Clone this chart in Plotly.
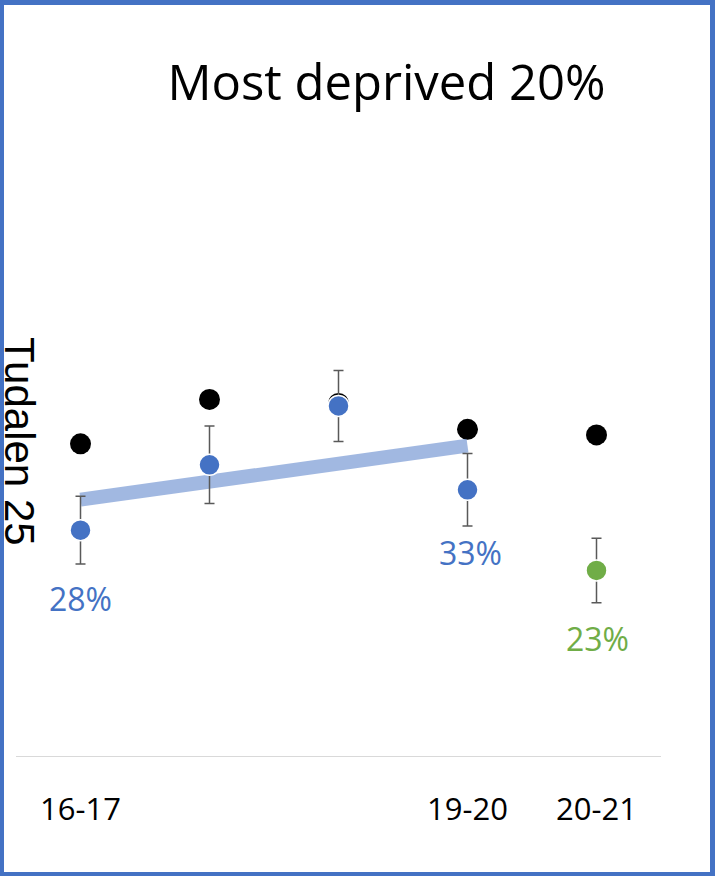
import numpy as np
import plotly.graph_objects as go

# Academic years on the category axis
years = ["16-17", "17-18", "18-19", "19-20", "20-21"]
tick_labels = ["16-17", "", "", "19-20", "20-21"]

# Comparison group (black dots), %
overall = [38.7, 44.2, 43.7, 40.5, 39.8]

# Most deprived 20%: pre-pandemic years (blue) and 20-21 (green), %
deprived_years = ["16-17", "17-18", "18-19", "19-20"]
deprived = [28, 36.1, 43.4, 33]
deprived_err = [4.2, 4.8, 4.4, 4.5]

latest_year = ["20-21"]
latest = [23]
latest_err = [4.0]

BLUE = "#4472C4"
GREEN = "#70AD47"
BORDER = "#4472C4"

W, H = 715, 876
L, R, T, B = 16, 54, 272, 120
PW, PH = W - L - R, H - T - B


def px_x(p):
    return (p - L) / PW


def px_y(p):
    return (H - B - p) / PH


fig = go.Figure()

fig.add_trace(go.Scatter(
    x=years, y=overall, mode="markers",
    marker=dict(color="black", size=21),
    showlegend=False, hoverinfo="skip",
))

# Linear trend through the four blue years
xi = np.arange(len(deprived))
slope, icpt = np.polyfit(xi, deprived, 1)
trend = slope * xi + icpt
fig.add_trace(go.Scatter(
    x=deprived_years, y=trend, mode="lines",
    line=dict(color="rgba(68,114,196,0.5)", width=14),
    showlegend=False, hoverinfo="skip",
))

fig.add_trace(go.Scatter(
    x=deprived_years, y=deprived, mode="markers",
    marker=dict(color=BLUE, size=21, line=dict(color="white", width=1.5)),
    error_y=dict(type="data", array=deprived_err, color="#595959",
                 thickness=1.5, width=5),
    showlegend=False, hoverinfo="skip",
))

fig.add_trace(go.Scatter(
    x=latest_year, y=latest, mode="markers",
    marker=dict(color=GREEN, size=21, line=dict(color="white", width=1.5)),
    error_y=dict(type="data", array=latest_err, color="#595959",
                 thickness=1.5, width=5),
    showlegend=False, hoverinfo="skip",
))

label_font = dict(family="Open Sans", size=32)
annotations = [
    dict(x=deprived_years[0], y=deprived[0], text=f"{deprived[0]:.0f}%",
         showarrow=False, yshift=-68, font=dict(label_font, color=BLUE)),
    dict(x=deprived_years[3], y=deprived[3], text=f"{deprived[3]:.0f}%",
         showarrow=False, yshift=-63, xshift=3, font=dict(label_font, color=BLUE)),
    dict(x=latest_year[0], y=latest[0], text=f"{latest[0]:.0f}%",
         showarrow=False, yshift=-68, xshift=1, font=dict(label_font, color=GREEN)),
    dict(xref="paper", yref="paper", x=px_x(19), y=px_y(441),
         text="Tudalen 25", textangle=90, showarrow=False,
         xanchor="center", yanchor="middle", height=36,
         font=dict(family="Liberation Sans", size=42, color="black")),
]

# Frame around the whole canvas
shapes = []
for x0, y0, x1, y1 in [(0, 0, 4, H), (W - 5, 0, W, H), (0, 0, W, 5), (0, H - 4, W, H)]:
    shapes.append(dict(type="rect", xref="paper", yref="paper",
                       x0=px_x(x0), x1=px_x(x1), y0=px_y(y1), y1=px_y(y0),
                       fillcolor=BORDER, line=dict(width=0), layer="above"))

fig.update_layout(
    width=W, height=H,
    margin=dict(l=L, r=R, t=T, b=B),
    paper_bgcolor="white", plot_bgcolor="white",
    title=dict(text="Most deprived 20%", x=386.5 / W, xanchor="center",
               y=1 - 83 / H, yanchor="middle",
               font=dict(family="Open Sans", size=49, color="black")),
    xaxis=dict(type="category", categoryorder="array", categoryarray=years,
               range=[-0.5, 4.5], tickvals=years, ticktext=tick_labels,
               showgrid=False, zeroline=False, showline=True,
               linecolor="#D9D9D9", linewidth=1, ticks="",
               ticklabelstandoff=26,
               tickfont=dict(family="Open Sans", size=31, color="black")),
    yaxis=dict(range=[0, 60], showgrid=False, zeroline=False,
               showticklabels=False, showline=False, ticks=""),
    annotations=annotations,
    shapes=shapes,
)

fig.write_html("out.html")
